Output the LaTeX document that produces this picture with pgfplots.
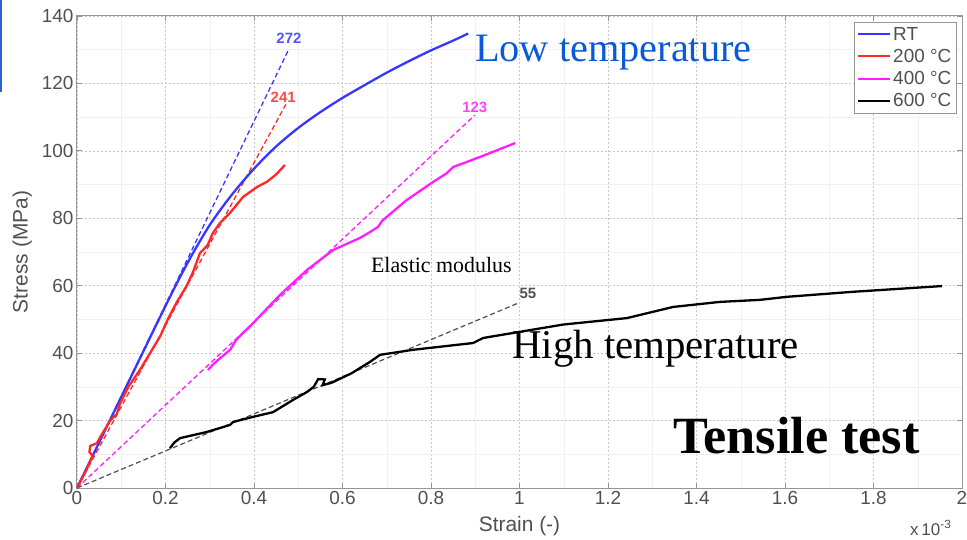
\documentclass[border=0pt]{standalone}
\usepackage{fontspec}
\setmainfont{Liberation Sans}
\newfontfamily\serifx{Liberation Serif}
\usepackage{pgfplots}
\pgfplotsset{compat=1.18}
\definecolor{cblue}{RGB}{55,55,255}
\definecolor{cred}{RGB}{255,40,40}
\definecolor{cmag}{RGB}{255,30,255}
\definecolor{ltblue}{RGB}{10,90,215}
\definecolor{axgray}{RGB}{150,150,150}
\definecolor{tickgray}{RGB}{80,80,80}
\definecolor{dashgray}{RGB}{80,80,80}
\definecolor{border}{RGB}{48,96,208}
\begin{document}
\begin{tikzpicture}
\begin{axis}[
  name=ax, at={(0,0)}, anchor=south west,
  scale only axis, width=885bp, height=472bp,
  xmin=0, xmax=2, ymin=0, ymax=140,
  xtick={0,0.2,0.4,0.6,0.8,1,1.2,1.4,1.6,1.8,2},
  xticklabels={0,0.2,0.4,0.6,0.8,1,1.2,1.4,1.6,1.8,2},
  ytick={0,20,40,60,80,100,120,140},
  minor xtick={0.1,0.3,0.5,0.7,0.9,1.1,1.3,1.5,1.7,1.9},
  minor ytick={10,30,50,70,90,110,130},
  grid=both,
  major grid style={gray!45, dash pattern=on 2bp off 2bp, line width=0.6bp},
  minor grid style={gray!12, line width=0.5bp},
  tick align=inside, xtick pos=both, ytick pos=both,
  major tick length=5bp, minor tick length=0bp,
  axis line style={axgray, line width=1bp},
  every tick/.style={axgray, line width=0.8bp},
  tick label style={font=\fontsize{19}{19}\selectfont, text=tickgray},
  /pgf/number format/assume math mode=true,
  xlabel={Strain (-)}, ylabel={Stress (MPa)},
  label style={font=\fontsize{21}{21}\selectfont, text=tickgray},
  xlabel style={at={(axis description cs:0.5,-0.08)}, anchor=center},
  ylabel style={at={(axis description cs:-0.062,0.5)}, anchor=center},
  legend style={at={(axis description cs:0.994,0.988)}, anchor=north east,
    draw=axgray, line width=0.8bp, font=\fontsize{19}{19}\selectfont, text=tickgray,
    cells={anchor=west}, inner xsep=3bp, inner ysep=3bp, row sep=3.5bp},
  legend image code/.code={\draw[#1, line width=2bp] (0bp,0bp) -- (32bp,0bp);},
]
% elastic modulus lines
\addplot[cblue, line width=1.3bp, dash pattern=on 5bp off 3bp, forget plot] coordinates {(0,0) (0.477,129.7)};
\addplot[cred, line width=1.3bp, dash pattern=on 5bp off 3bp, forget plot] coordinates {(0,0) (0.472,113.8)};
\addplot[cmag, line width=1.3bp, dash pattern=on 5bp off 3bp, forget plot] coordinates {(0,0) (0.899,110.6)};
\addplot[dashgray, line width=1.2bp, dash pattern=on 5bp off 3bp, forget plot] coordinates {(0,0) (1.0,55.0)};
% RT
\addplot[cblue, line width=2.3bp, smooth, tension=0.5] coordinates {
(0,0) (0.1,27) (0.2,54) (0.25,66.8) (0.3,78) (0.35,87) (0.4,94.7) (0.45,101.3)
(0.5,106.8) (0.55,111.5) (0.6,115.7) (0.65,119.5) (0.7,123.2) (0.75,126.6)
(0.8,129.8) (0.85,132.7) (0.884,134.8)};
\addlegendentry{RT}
% 200 C
\addplot[cred, line width=2.3bp] coordinates {
(0,0) (0.02,5) (0.035,9.5) (0.028,10.7) (0.03,12.5) (0.045,13.3) (0.052,15) (0.075,20)
(0.09,22) (0.097,25) (0.116,30) (0.142,35) (0.165,40) (0.188,45) (0.205,50) (0.225,55)
(0.248,60) (0.262,64) (0.278,69.7) (0.295,72) (0.307,75.6) (0.323,78.6) (0.346,81.6)
(0.375,86.3) (0.407,89.3) (0.429,90.8) (0.45,93) (0.470,95.8)};
\addlegendentry{200 °C}
% 400 C
\addplot[cmag, line width=2.3bp] coordinates {
(0.296,35) (0.31,37) (0.346,41) (0.36,44) (0.398,48.9) (0.459,57.3) (0.52,64.7)
(0.579,70.6) (0.64,74.2) (0.662,75.9) (0.68,77.4) (0.69,79.3) (0.745,85.4)
(0.805,90.8) (0.836,93.4) (0.85,95.2) (0.911,98.2) (0.99,102.3)};
\addlegendentry{400 °C}
% 600 C
\addplot[black, line width=2.3bp] coordinates {
(0.21,11.8) (0.22,13.5) (0.233,14.8) (0.293,16.6) (0.346,18.7) (0.353,19.6) (0.398,21.1)
(0.443,22.5) (0.488,26.1) (0.52,28.5) (0.535,30) (0.545,32.3) (0.56,32.2) (0.555,30.5)
(0.575,31.2) (0.62,34) (0.662,37.4) (0.685,39.5) (0.76,41) (0.895,43) (0.918,44.5)
(0.986,46) (1.1,48.5) (1.243,50.4) (1.347,53.7) (1.453,55.2) (1.543,55.8) (1.604,56.7)
(1.754,58.2) (1.955,59.9)};
\addlegendentry{600 °C}
% labels
\node[font=\bfseries\fontsize{15}{15}\selectfont, text=cblue!85] at (axis cs:0.479,133.5) {272};
\node[font=\bfseries\fontsize{15}{15}\selectfont, text=cred!85] at (axis cs:0.466,116) {241};
\node[font=\bfseries\fontsize{15}{15}\selectfont, text=cmag!85] at (axis cs:0.899,113) {123};
\node[font=\bfseries\fontsize{15}{15}\selectfont, text=dashgray] at (axis cs:1.019,57.8) {55};
\node[anchor=base west, inner sep=0, font=\serifx\fontsize{40.5}{40.5}\selectfont, text=ltblue] at (axis cs:0.899,126.4) {Low temperature};
\node[anchor=base west, inner sep=0, font=\serifx\fontsize{41}{41}\selectfont, text=black] at (axis cs:0.983,38.3) {High temperature};
\node[anchor=base west, inner sep=0, font=\serifx\fontsize{22}{22}\selectfont, text=black] at (axis cs:0.664,63.8) {Elastic modulus};
\node[anchor=base west, inner sep=0, font=\serifx\bfseries\fontsize{52.5}{52.5}\selectfont, text=black] at (axis cs:1.347,10.1) {Tensile test};
\end{axis}
\node[anchor=base west, inner sep=0, xshift=-52bp, yshift=-47bp, font=\fontsize{17}{17}\selectfont, text=tickgray] at (ax.south east) {x\,10\textsuperscript{-3}};
\fill[border] (-77bp,396bp) rectangle (-75bp,488bp);
\pgfresetboundingbox
\useasboundingbox (-77bp,-52bp) rectangle (890bp,488bp);
\end{tikzpicture}
\end{document}
